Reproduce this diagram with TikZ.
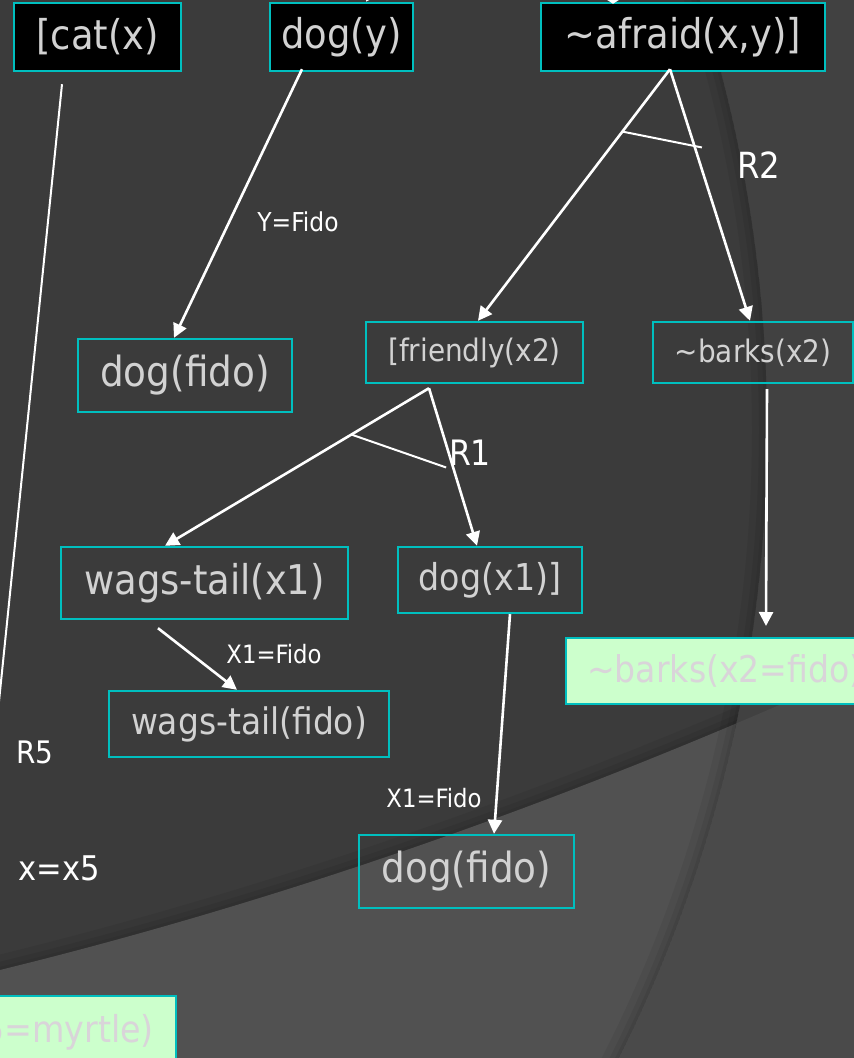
\documentclass[tikz,border=0pt]{standalone}
\usepackage{fontspec}
\setmainfont{DejaVu Sans Condensed}
\usetikzlibrary{arrows.meta,calc}
\definecolor{bgdark}{HTML}{3B3B3B}
\definecolor{bglight}{HTML}{515151}
\definecolor{bgright}{HTML}{414141}
\definecolor{bglr}{HTML}{4A4A4A}
\definecolor{boxcyan}{HTML}{00BFBF}
\definecolor{boxtext}{HTML}{D2D2D2}
\definecolor{greenfill}{HTML}{CCFFCC}
\definecolor{greentext}{HTML}{D9D4D9}
\newcommand{\fsz}[1]{\fontsize{#1}{#1}\selectfont}
\tikzset{
  box/.style={draw=boxcyan, line width=2.4pt, inner sep=0pt, text=boxtext},
  topbox/.style={box, fill=black},
  greenbox/.style={box, fill=greenfill, text=greentext},
  lbl/.style={text=white, inner sep=0pt},
  conn/.style={draw=white, line width=2.6pt, -{Triangle[length=14pt,width=14pt]}},
  thinline/.style={draw=white, line width=2pt},
  shade/.style={draw=black, opacity=0.06},
}
\begin{document}
\begin{tikzpicture}[x=1pt,y=-1pt]
\useasboundingbox (0,0) rectangle (854,1058);
\clip (0,0) rectangle (854,1058);
% ---- background
\fill[bgright] (0,0) rectangle (854,1058);
\fill[bglr] (0,970) .. controls (285,900) and (570,800) .. (854,672) -- (854,1058) -- (0,1058) -- cycle;
\begin{scope}
  \clip (-633,430) circle (1400);
  \fill[bgdark] (-633,430) circle (1400);
  \draw[shade, line width=6pt] (0,970) .. controls (285,900) and (570,800) .. (854,672);
  \draw[shade, line width=16pt] (0,970) .. controls (285,900) and (570,800) .. (854,672);
  \draw[shade, line width=30pt] (0,970) .. controls (285,900) and (570,800) .. (854,672);
  \fill[bglight] (0,970) .. controls (285,900) and (570,800) .. (854,672) -- (854,1058) -- (0,1058) -- cycle;
  \draw[shade, line width=6pt] (-633,430) circle (1400);
  \draw[shade, line width=16pt] (-633,430) circle (1400);
  \draw[shade, line width=30pt] (-633,430) circle (1400);
\end{scope}
% ---- boxes
\node[topbox, minimum width=167pt, minimum height=68pt, font=\fsz{41}] (cat) at (97.5,37) {[cat(x)};
\node[topbox, minimum width=143pt, minimum height=68pt, font=\fsz{41}] (dogy) at (341.5,37) {dog(y)};
\node[topbox, minimum width=284pt, minimum height=68pt, font=\fsz{41}] (afraid) at (683,37) {\char"007E afraid(x,y)]};
\node[box, minimum width=214pt, minimum height=73pt, font=\fsz{41.5}] (dogfidoA) at (185,375.5) {dog(fido)};
\node[box, minimum width=217pt, minimum height=61pt, font=\fsz{31}] (friendly) at (474.5,352.5) {[friendly(x2)};
\node[box, minimum width=200pt, minimum height=61pt, font=\fsz{31}] (barks) at (753,352.5) {\char"007E barks(x2)};
\node[box, minimum width=287pt, minimum height=72pt, font=\fsz{41}] (wagsx) at (204.5,583) {wags-tail(x1)};
\node[box, minimum width=184pt, minimum height=66pt, font=\fsz{37}] (dogx) at (490,580) {dog(x1)]};
\node[box, minimum width=280pt, minimum height=66pt, font=\fsz{36.6}] (wagsfido) at (249,724) {wags-tail(fido)};
\node[box, minimum width=215pt, minimum height=73pt, font=\fsz{41.5}] (dogfidoB) at (466.5,871.5) {dog(fido)};
\node[greenbox, anchor=north west, minimum height=66pt, inner xsep=21pt, font=\fsz{36.8}] (barksfido) at (565,637) {\char"007E barks(x2=fido)};
\node[greenbox, anchor=north east, minimum height=72pt, inner xsep=22pt, font=\fsz{37}] (myrtle) at (177,995) {cat(x5=myrtle)};
% ---- labels
\node[lbl, font=\fsz{26}] (lY) at (298,222) {Y=Fido};
\node[lbl, font=\fsz{25.3}] (lXa) at (274,654) {X1=Fido};
\node[lbl, font=\fsz{25.3}] (lXb) at (434,798) {X1=Fido};
\node[lbl, font=\fsz{36}] (lR2) at (759,165) {R2};
\node[lbl, font=\fsz{35}] (lR1) at (470,453) {R1};
\node[lbl, font=\fsz{31}] (lR5) at (35,752) {R5};
\node[lbl, font=\fsz{34}] (lx5) at (59,868) {x=x5};
% ---- connector points
\coordinate (apexA) at ([xshift=-13pt,yshift=3pt]afraid.south);
\coordinate (apexB) at ([xshift=-45.5pt,yshift=-4pt]friendly.south);
\coordinate (fromTopA) at (406,-57);
\coordinate (fromTopB) at (613,-60);
% ---- connectors
\draw[conn] (fromTopA) -- ([xshift=24.5pt]dogy.north);
\draw[draw=white, line width=2.6pt, -{Triangle[length=8pt,width=24pt]}] (fromTopB) -- ([xshift=-70pt,yshift=-2pt]afraid.north);
\draw[thinline] ([xshift=-35.5pt,yshift=-12pt]cat.south) -- ([xshift=-208pt]myrtle.north east);
\draw[conn] ([xshift=-39.5pt,yshift=3pt]dogy.south) -- ([xshift=-11pt]dogfidoA.north);
\draw[conn] (apexA) -- ([xshift=3.5pt]friendly.north);
\draw[conn] (apexA) -- ([xshift=-3pt]barks.north);
\draw[thinline] ($(apexA)!0.248!([xshift=3.5pt]friendly.north)$) -- ($(apexA)!0.311!([xshift=-3pt]barks.north)+(7,0)$);
\draw[conn] (apexB) -- ([xshift=-39.5pt]wagsx.north);
\draw[conn] (apexB) -- ([xshift=-13pt]dogx.north);
\draw[thinline] ($(apexB)!0.294!([xshift=-39.5pt]wagsx.north)$) -- ($(apexB)!0.503!([xshift=-13pt]dogx.north)+(-7,0)$);
\draw[conn] ([xshift=-46.5pt,yshift=-8pt]wagsx.south) -- ([xshift=-12pt]wagsfido.north);
\draw[conn] ([xshift=20pt]dogx.south) -- ([xshift=27.5pt]dogfidoB.north);
\draw[conn] ([xshift=14pt,yshift=-5pt]barks.south) -- ([xshift=201pt,yshift=11pt]barksfido.north west);
\end{tikzpicture}
\end{document}
